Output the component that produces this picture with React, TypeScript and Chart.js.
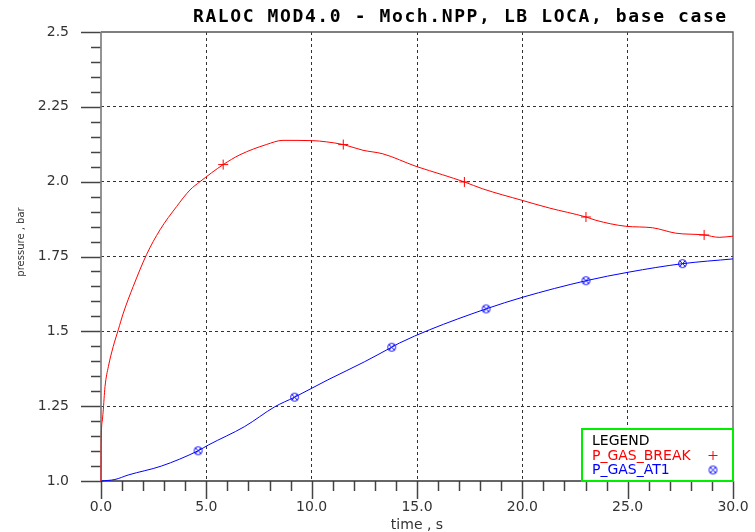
import React, { useEffect, useRef } from "react";
import { Chart, registerables } from "chart.js";

Chart.register(...registerables);

const TITLE = "RALOC MOD4.0 - Moch.NPP, LB LOCA, base case";
const X_TITLE = "time , s";
const Y_TITLE = "pressure , bar";
const LEGEND_TITLE = "LEGEND";

const X_TICKS = [0, 5, 10, 15, 20, 25, 30];
const X_TICK_LABELS = ["0.0", "5.0", "10.0", "15.0", "20.0", "25.0", "30.0"];
const Y_TICKS = [1.0, 1.25, 1.5, 1.75, 2.0, 2.25, 2.5];
const Y_TICK_LABELS = ["1.0", "1.25", "1.5", "1.75", "2.0", "2.25", "2.5"];
const X_MINOR_STEP = 1;
const Y_MINOR_STEP = 0.05;

const BREAK_LABEL = "P_GAS_BREAK";
const BREAK_T = [0, 0.01, 0.06, 0.1, 0.19, 0.35, 0.58, 0.82, 1.06, 1.53, 2.16, 2.8, 3.59, 4.22, 4.7, 5.8, 6.6, 7.85, 8.64, 10.06, 10.7, 11.5, 12.43, 13.38, 14.96, 16.22, 17.25, 18.12, 20.02, 21.28, 23.02, 23.49, 24.91, 26.18, 27.28, 28.63, 29.34, 30];
const BREAK_P = [1.0, 1.13, 1.2, 1.23, 1.315, 1.382, 1.449, 1.505, 1.561, 1.65, 1.756, 1.839, 1.917, 1.972, 2.0, 2.057, 2.09, 2.124, 2.138, 2.137, 2.133, 2.124, 2.105, 2.093, 2.051, 2.023, 1.999, 1.976, 1.937, 1.912, 1.882, 1.871, 1.851, 1.846, 1.828, 1.822, 1.814, 1.818];
const BREAK_MARK_T = [5.8, 11.5, 17.25, 23.02, 28.63];
const BREAK_MARK_P = [2.057, 2.124, 1.999, 1.882, 1.822];

const AT1_LABEL = "P_GAS_AT1";
const AT1_T = [0, 0.66, 1.29, 2.87, 4.61, 5.09, 6.82, 8.25, 9.19, 10.77, 12.5, 13.8, 14.17, 15.59, 18.28, 20.02, 23.02, 25.07, 27.6, 30];
const AT1_P = [1.0, 1.005, 1.02, 1.05, 1.101, 1.12, 1.182, 1.248, 1.28, 1.338, 1.398, 1.447, 1.461, 1.505, 1.575, 1.614, 1.669, 1.698, 1.726, 1.742];
const AT1_MARK_T = [4.61, 9.19, 13.8, 18.28, 23.02, 27.6];
const AT1_MARK_P = [1.101, 1.28, 1.447, 1.575, 1.669, 1.726];

const RED = "#ff0000";
const BLUE = "#0000ff";
const GREEN = "#00ee00";

const toXY = (xs: number[], ys: number[]) => xs.map((x, i) => ({ x, y: ys[i] }));
const near = (a: number, b: number) => Math.abs(a - b) < 1e-6;

function makeAt1Marker(): HTMLCanvasElement {
  const c = document.createElement("canvas");
  c.width = 11;
  c.height = 11;
  const g = c.getContext("2d")!;
  g.strokeStyle = BLUE;
  g.lineWidth = 1;
  g.beginPath();
  g.arc(5.5, 5.5, 4, 0, Math.PI * 2);
  g.stroke();
  g.beginPath();
  g.moveTo(3, 3);
  g.lineTo(8, 8);
  g.moveTo(8, 3);
  g.lineTo(3, 8);
  g.stroke();
  return c;
}

const framePlugin = {
  id: "frame",
  beforeDatasetsDraw(chart: any) {
    const { ctx, chartArea: a, scales } = chart;
    const xs = scales.x;
    const ys = scales.y;
    ctx.save();
    // tick marks
    ctx.strokeStyle = "#444";
    ctx.lineWidth = 1.5;
    const yMin = Y_TICKS[0];
    const yMax = Y_TICKS[Y_TICKS.length - 1];
    const nY = Math.round((yMax - yMin) / Y_MINOR_STEP);
    for (let i = 0; i <= nY; i++) {
      const v = yMin + i * Y_MINOR_STEP;
      const major = Y_TICKS.some((t) => Math.abs(t - v) < 1e-6);
      const py = Math.round(ys.getPixelForValue(v)) + 0.5;
      ctx.beginPath();
      ctx.moveTo(a.left - (major ? 20 : 10), py);
      ctx.lineTo(a.left, py);
      ctx.stroke();
    }
    const xMin = X_TICKS[0];
    const xMax = X_TICKS[X_TICKS.length - 1];
    const nX = Math.round((xMax - xMin) / X_MINOR_STEP);
    for (let i = 0; i <= nX; i++) {
      const v = xMin + i * X_MINOR_STEP;
      const major = X_TICKS.some((t) => Math.abs(t - v) < 1e-6);
      const px = Math.round(xs.getPixelForValue(v)) + 0.5;
      ctx.beginPath();
      ctx.moveTo(px, a.bottom);
      ctx.lineTo(px, a.bottom + (major ? 18 : 10));
      ctx.stroke();
    }
    // frame
    ctx.lineWidth = 1.3;
    ctx.strokeStyle = "#555";
    ctx.beginPath();
    ctx.moveTo(a.left, a.top);
    ctx.lineTo(a.right, a.top);
    ctx.lineTo(a.right, a.bottom);
    ctx.stroke();
    ctx.strokeStyle = "#333";
    ctx.beginPath();
    ctx.moveTo(a.left, a.bottom);
    ctx.lineTo(a.right, a.bottom);
    ctx.stroke();
    ctx.lineWidth = 1.7;
    ctx.strokeStyle = "#808080";
    ctx.beginPath();
    ctx.moveTo(a.left, a.top);
    ctx.lineTo(a.left, a.bottom);
    ctx.stroke();

    // title
    ctx.fillStyle = "#000";
    ctx.font = "bold 18px 'DejaVu Sans Mono'";
    (ctx as any).letterSpacing = "1.6px";
    ctx.textAlign = "left";
    ctx.textBaseline = "middle";
    ctx.fillText(TITLE, 193, 17);
    (ctx as any).letterSpacing = "0px";

    // axis titles
    ctx.fillStyle = "#333";
    ctx.font = "14px 'DejaVu Sans'";
    ctx.textAlign = "center";
    ctx.fillText(X_TITLE, (a.left + a.right) / 2, 525);
    ctx.save();
    ctx.translate(21, 242);
    ctx.rotate(-Math.PI / 2);
    ctx.font = "10px 'DejaVu Sans'";
    ctx.fillText(Y_TITLE, 0, 0);
    ctx.restore();
    ctx.restore();
  },
  afterDraw(chart: any) {
    const { ctx, chartArea: a } = chart;
    const ds = chart.data.datasets;
    ctx.save();
    const bx = 582, by = 429, bw = a.right - 582, bh = a.bottom - 429;
    ctx.fillStyle = "#fff";
    ctx.fillRect(bx, by, bw, bh);
    ctx.strokeStyle = GREEN;
    ctx.lineWidth = 2;
    ctx.strokeRect(bx, by, bw, bh);
    ctx.font = "14px 'DejaVu Sans'";
    ctx.textAlign = "left";
    ctx.textBaseline = "alphabetic";
    ctx.fillStyle = "#000";
    ctx.fillText(LEGEND_TITLE, 592, 445);
    ctx.fillStyle = ds[0].borderColor;
    ctx.fillText(ds[0].label, 592, 460);
    ctx.fillStyle = ds[1].borderColor;
    ctx.fillText(ds[1].label, 592, 474);
    // markers
    ctx.strokeStyle = RED;
    ctx.lineWidth = 1;
    ctx.beginPath();
    ctx.moveTo(708.5, 455.5);
    ctx.lineTo(717.5, 455.5);
    ctx.moveTo(713, 451);
    ctx.lineTo(713, 460);
    ctx.stroke();
    const img = ds[3].pointStyle;
    if (img) ctx.drawImage(img, 713 - 5.5, 470 - 5.5);
    ctx.restore();
  },
};

export default function App() {
  const ref = useRef<HTMLCanvasElement>(null);
  useEffect(() => {
    document.body.style.margin = "0";
    const marker = makeAt1Marker();
    const chart = new Chart(ref.current!, {
      type: "line",
      data: {
        datasets: [
          {
            label: BREAK_LABEL,
            data: toXY(BREAK_T, BREAK_P),
            borderColor: RED,
            borderWidth: 1,
            pointRadius: 0,
            cubicInterpolationMode: "monotone",
            clip: 3,
          } as any,
          {
            label: AT1_LABEL,
            data: toXY(AT1_T, AT1_P),
            borderColor: BLUE,
            borderWidth: 1,
            pointRadius: 0,
            cubicInterpolationMode: "monotone",
            clip: 3,
          } as any,
          {
            label: BREAK_LABEL + " markers",
            data: toXY(BREAK_MARK_T, BREAK_MARK_P),
            showLine: false,
            borderColor: RED,
            borderWidth: 1,
            pointStyle: "cross",
            pointRadius: 5,
          } as any,
          {
            label: AT1_LABEL + " markers",
            data: toXY(AT1_MARK_T, AT1_MARK_P),
            showLine: false,
            pointStyle: marker,
            pointRadius: 5,
          } as any,
        ],
      },
      options: {
        animation: false,
        responsive: false,
        events: [],
        layout: { padding: { top: 32, right: 22, left: 0, bottom: 0 } },
        plugins: { legend: { display: false }, tooltip: { enabled: false }, title: { display: false } },
        scales: {
          x: {
            type: "linear",
            min: X_TICKS[0],
            max: X_TICKS[X_TICKS.length - 1],
            afterBuildTicks: (s: any) => {
              s.ticks = X_TICKS.map((v) => ({ value: v }));
            },
            afterFit: (s: any) => {
              s.height = 51;
              s.paddingLeft = 0;
              s.paddingRight = 0;
            },
            ticks: {
              autoSkip: false,
              maxRotation: 0,
              padding: 18,
              color: "#333",
              font: { family: "'DejaVu Sans'", size: 14 },
              callback: (v: any) => {
                const i = X_TICKS.findIndex((t) => near(t, v));
                return i >= 0 ? X_TICK_LABELS[i] : "";
              },
            },
            grid: {
              drawTicks: false,
              lineWidth: 1,
              color: (c: any) =>
                c.tick && (near(c.tick.value, X_TICKS[0]) || near(c.tick.value, X_TICKS[X_TICKS.length - 1]))
                  ? "rgba(0,0,0,0)"
                  : "#333",
            },
            border: { display: false, dash: [3, 3] },
          },
          y: {
            type: "linear",
            min: Y_TICKS[0],
            max: Y_TICKS[Y_TICKS.length - 1],
            afterBuildTicks: (s: any) => {
              s.ticks = Y_TICKS.map((v) => ({ value: v }));
            },
            afterFit: (s: any) => {
              s.width = 101;
              s.paddingTop = 0;
              s.paddingBottom = 0;
            },
            ticks: {
              autoSkip: false,
              padding: 32,
              color: "#333",
              font: { family: "'DejaVu Sans'", size: 14 },
              callback: (v: any) => {
                const i = Y_TICKS.findIndex((t) => near(t, v));
                return i >= 0 ? Y_TICK_LABELS[i] : "";
              },
            },
            grid: {
              drawTicks: false,
              lineWidth: 1,
              color: (c: any) =>
                c.tick && (near(c.tick.value, Y_TICKS[0]) || near(c.tick.value, Y_TICKS[Y_TICKS.length - 1]))
                  ? "rgba(0,0,0,0)"
                  : "#333",
            },
            border: { display: false, dash: [3, 3] },
          },
        },
      },
      plugins: [framePlugin],
    } as any);
    return () => chart.destroy();
  }, []);
  return (
    <div style={{ width: 755, height: 532 }}>
      <canvas ref={ref} width={755} height={532} style={{ display: "block" }} />
    </div>
  );
}
